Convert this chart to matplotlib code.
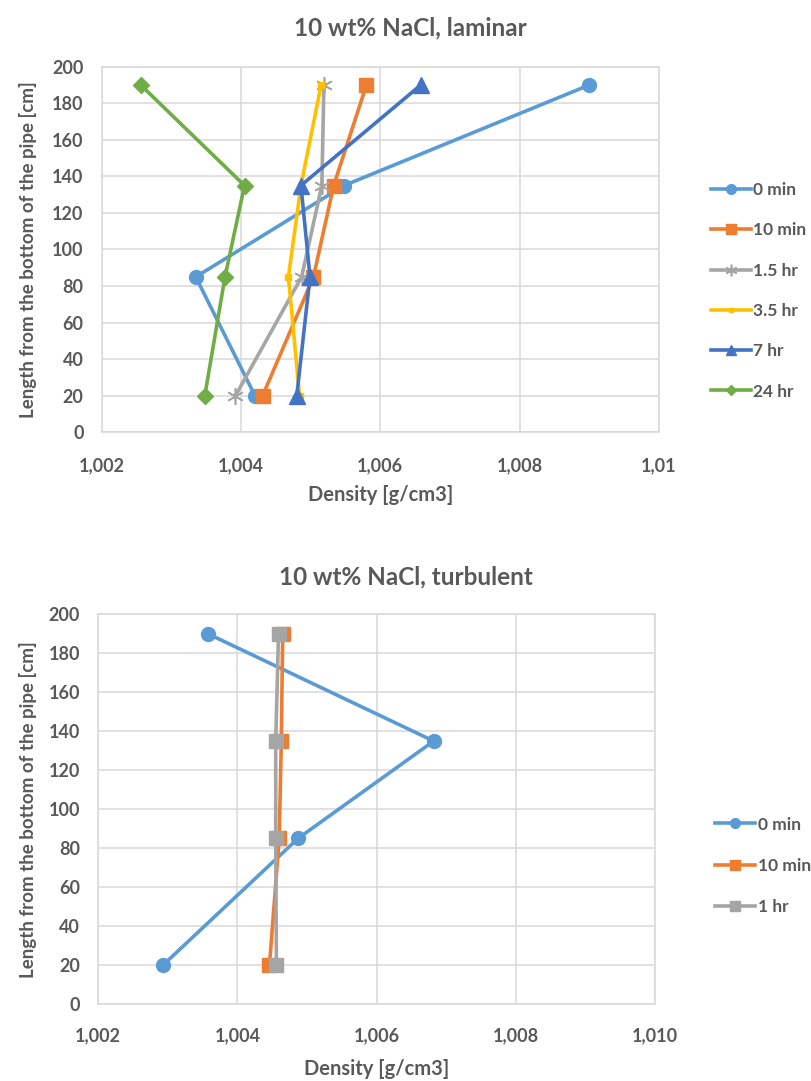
import matplotlib.pyplot as plt

plt.rcParams['font.family'] = ['Lato', 'DejaVu Sans']
plt.rcParams['font.weight'] = 'bold'
text_col = "#595959"

# heights along the pipe [cm]
heights = [190, 135, 85, 20]

# laminar run, density [g/cm3] per time step
lam_labels = ["0 min", "10 min", "1.5 hr", "3.5 hr", "7 hr", "24 hr"]
lam_0min = [1.00900, 1.00548, 1.00335, 1.00420]
lam_10min = [1.00580, 1.00533, 1.00504, 1.00431]
lam_1_5hr = [1.00519, 1.00516, 1.00487, 1.00392]
lam_3_5hr = [1.00515, 1.00486, 1.00468, 1.00484]
lam_7hr = [1.00658, 1.00486, 1.00499, 1.00480]
lam_24hr = [1.00256, 1.00405, 1.00377, 1.00348]

# turbulent run
turb_labels = ["0 min", "10 min", "1 hr"]
turb_0min = [1.00358, 1.00682, 1.00487, 1.00293]
turb_10min = [1.00465, 1.00463, 1.00460, 1.00446]
turb_1hr = [1.00459, 1.00455, 1.00455, 1.00456]

y_ticks = list(range(0, 201, 20))
x_ticks = [1.002, 1.004, 1.006, 1.008, 1.010]
x_labels_top = ["1,002", "1,004", "1,006", "1,008", "1,01"]
x_labels_bot = ["1,002", "1,004", "1,006", "1,008", "1,010"]

blue = "#5B9BD5"
orange = "#ED7D31"
grey = "#A5A5A5"
yellow = "#FFC000"
dblue = "#4472C4"
green = "#70AD47"

fig = plt.figure(figsize=(8.11, 10.81), dpi=100)


def style_axes(ax, xlabels, pad_x):
    ax.set_xlim(1.002, 1.010)
    ax.set_ylim(0, 200)
    ax.set_xticks(x_ticks)
    ax.set_xticklabels(xlabels)
    ax.set_yticks(y_ticks)
    ax.grid(True, color="#D9D9D9", linewidth=1.1)
    ax.set_axisbelow(True)
    for s in ax.spines.values():
        s.set_color("#D9D9D9")
        s.set_linewidth(1.1)
    ax.tick_params(axis="x", length=0, pad=pad_x, labelsize=13, colors=text_col)
    ax.tick_params(axis="y", length=0, pad=13, labelsize=13, colors=text_col)
    ax.set_xlabel("Density [g/cm3]", fontsize=14.5, color=text_col, fontweight="bold")
    ax.set_ylabel("Length from the bottom of the pipe [cm]", fontsize=13.5,
                  color=text_col, fontweight="bold")


# laminar
ax1 = fig.add_axes([0.1254, 0.6001, 0.6872, 0.3382])
lw = 2.6
ax1.plot(lam_0min, heights, color=blue, lw=lw, marker="o", ms=10, label=lam_labels[0])
ax1.plot(lam_10min, heights, color=orange, lw=lw, marker="s", ms=10, label=lam_labels[1])
ax1.plot(lam_1_5hr, heights, color=grey, lw=lw, marker=(6, 2, 0), ms=12, mew=1.2,
         label=lam_labels[2])
ax1.plot(lam_3_5hr, heights, color=yellow, lw=lw, marker="s", ms=5, label=lam_labels[3])
ax1.plot(lam_7hr, heights, color=dblue, lw=lw, marker="^", ms=11, label=lam_labels[4])
ax1.plot(lam_24hr, heights, color=green, lw=lw, marker="D", ms=8, label=lam_labels[5])
style_axes(ax1, x_labels_top, 18)
ax1.xaxis.set_label_coords(0.5, -0.145)
ax1.yaxis.set_label_coords(-0.116, 0.5)
leg1 = ax1.legend(loc="center left", bbox_to_anchor=(1.065, 0.387), frameon=False,
                  fontsize=12.5, handlelength=2.3, handletextpad=0.15, labelspacing=1.4,
                  markerscale=0.7)
for t in leg1.get_texts():
    t.set_color(text_col)
fig.text(0.506, 1 - 28 / 1081, "10 wt% NaCl, laminar", ha="center", va="center",
         fontsize=17.5, fontweight="bold", color=text_col)

# turbulent
ax2 = fig.add_axes([0.1212, 0.0712, 0.6864, 0.3604])
ax2.plot(turb_0min, heights, color=blue, lw=lw, marker="o", ms=10, label=turb_labels[0])
ax2.plot(turb_10min, heights, color=orange, lw=lw, marker="s", ms=10, label=turb_labels[1])
ax2.plot(turb_1hr, heights, color=grey, lw=lw, marker="s", ms=10, label=turb_labels[2])
style_axes(ax2, x_labels_bot, 17)
ax2.xaxis.set_label_coords(0.5, -0.141)
ax2.yaxis.set_label_coords(-0.11, 0.5)
leg2 = ax2.legend(loc="center left", bbox_to_anchor=(1.08, 0.355), frameon=False,
                  fontsize=12.5, handlelength=2.3, handletextpad=0.15, labelspacing=1.45,
                  markerscale=0.7)
for t in leg2.get_texts():
    t.set_color(text_col)
fig.text(0.5, 1 - 577 / 1081, "10 wt% NaCl, turbulent", ha="center", va="center",
         fontsize=17.5, fontweight="bold", color=text_col)

fig.savefig("out.png", dpi=100)
